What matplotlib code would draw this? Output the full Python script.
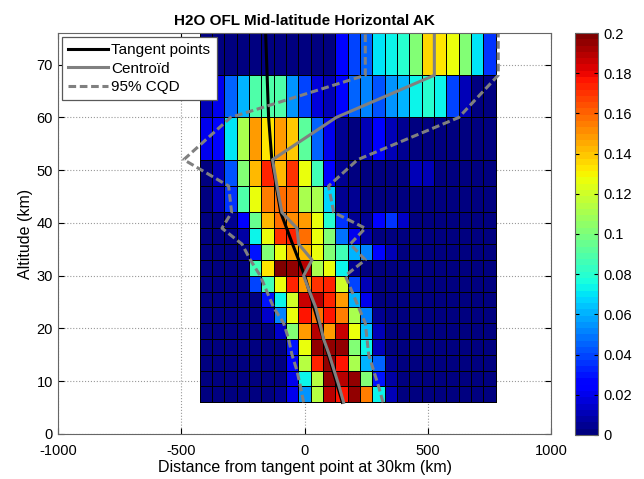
import numpy as np
import matplotlib.pyplot as plt
from matplotlib.lines import Line2D

plt.rcParams['font.family'] = ['Liberation Sans', 'DejaVu Sans']
plt.rcParams['axes.unicode_minus'] = False

# grid edges of the averaging-kernel map
x_edges = np.arange(-425, 776, 50)          # km, 24 columns
alt_edges = [6, 9, 12, 15, 18, 21, 24, 27, 30, 33, 36, 39, 42, 47, 52, 60, 68, 76]

# kernel values (x 1e-3), one row per altitude layer, bottom to top
kernel = np.array([
    [3, 3, 3, 3, 3, 3, 5, 20, 55, 115, 190, 178, 195, 155, 75, 12, 3, 3, 3, 3, 3, 3, 3, 3],
    [3, 3, 3, 3, 3, 3, 3, 20, 75, 115, 195, 190, 195, 100, 30, 8, 3, 3, 3, 3, 3, 3, 3, 3],
    [3, 3, 3, 3, 3, 3, 3, 25, 115, 175, 195, 178, 112, 60, 45, 5, 3, 3, 3, 3, 3, 3, 3, 3],
    [3, 3, 3, 3, 3, 3, 3, 30, 125, 195, 195, 195, 100, 75, 12, 3, 3, 3, 3, 3, 3, 3, 3, 3],
    [3, 3, 3, 3, 3, 3, 15, 100, 150, 190, 150, 185, 125, 65, 12, 3, 3, 3, 3, 3, 3, 3, 3, 3],
    [3, 3, 3, 3, 3, 15, 50, 125, 178, 158, 178, 155, 112, 50, 5, 3, 3, 3, 3, 3, 3, 3, 3, 3],
    [3, 3, 3, 3, 3, 30, 75, 120, 185, 190, 175, 150, 60, 20, 3, 3, 3, 3, 3, 3, 3, 3, 3, 3],
    [3, 3, 3, 3, 40, 85, 125, 175, 150, 170, 175, 120, 40, 10, 3, 3, 3, 3, 3, 3, 3, 3, 3, 3],
    [3, 3, 3, 3, 85, 133, 197, 195, 190, 112, 125, 72, 5, 3, 3, 3, 3, 3, 3, 3, 3, 3, 3, 3],
    [3, 3, 3, 3, 30, 103, 125, 145, 142, 125, 100, 85, 60, 52, 25, 12, 3, 3, 3, 3, 3, 3, 3, 3],
    [3, 3, 3, 8, 73, 125, 170, 172, 157, 127, 100, 47, 20, 8, 3, 3, 3, 3, 3, 3, 3, 3, 3, 3],
    [3, 3, 5, 22, 95, 142, 157, 152, 148, 125, 80, 35, 5, 5, 27, 37, 15, 3, 3, 3, 3, 3, 3, 3],
    [3, 10, 35, 90, 125, 155, 157, 157, 112, 110, 68, 6, 5, 3, 3, 3, 3, 3, 3, 3, 3, 3, 3, 3],
    [3, 10, 42, 100, 142, 172, 142, 170, 125, 85, 22, 5, 3, 3, 3, 3, 3, 10, 10, 3, 3, 3, 3, 3],
    [20, 25, 70, 112, 148, 133, 150, 138, 92, 45, 20, 4, 3, 10, 22, 12, 4, 3, 3, 3, 3, 3, 3, 3],
    [10, 20, 45, 60, 90, 88, 90, 55, 40, 18, 12, 25, 45, 52, 42, 55, 62, 72, 80, 72, 38, 10, 3, 3],
    [3, 3, 3, 3, 3, 3, 3, 3, 3, 3, 3, 25, 40, 45, 70, 72, 80, 100, 135, 133, 125, 102, 70, 35],
]) / 1000.0

# horizontal positions (km) at each altitude edge
tangent = [153, 134, 115, 96, 76, 57, 38, 19, 0, -24, -49, -73, -97, -115, -133, -146, -152, -158]
centroid = [158, 140, 120, 100, 77, 62, 45, 20, -4, 30, -24, -31, -92, -112, -130, 128, 526, 526]
cqd_low = [-4, -17, -31, -51, -65, -85, -126, -153, -180, -220, -254, -335, -296, -308, -490, -300, 246, 246]
cqd_high = [318, 300, 280, 260, 253, 246, 219, 192, 165, 246, 185, 246, 118, 97, 215, 625, 785, 785]

fig = plt.figure(figsize=(6.44, 4.79), dpi=100)
ax = fig.add_axes([0.090, 0.094, 0.766, 0.837])
cax = fig.add_axes([0.893, 0.092, 0.036, 0.839])

cmap = plt.get_cmap('jet', 64)
mesh = ax.pcolormesh(x_edges, alt_edges, kernel, cmap=cmap, vmin=0, vmax=0.2,
                     edgecolors='k', linewidth=0.4)

grey = (0.5, 0.5, 0.5)
dash = (0, (2.5, 1.2))
ax.plot(tangent, alt_edges, color='k', lw=2.2)
ax.plot(centroid, alt_edges, color=grey, lw=2.2)
ax.plot(cqd_low, alt_edges, color=grey, lw=2.2, ls=dash)
ax.plot(cqd_high, alt_edges, color=grey, lw=2.2, ls=dash)

ax.set_xlim(-1000, 1000)
ax.set_ylim(0, 76)
ax.set_xticks([-1000, -500, 0, 500, 1000])
ax.set_yticks(range(0, 71, 10))
ax.grid(True, ls=':', color=(0.6, 0.6, 0.6), lw=0.8)
ax.set_axisbelow(True)
ax.tick_params(direction='in', labelsize=10.5, top=True, right=True, length=4)
ax.tick_params(axis='x', pad=7)
for s in ax.spines.values():
    s.set_color((0.4, 0.4, 0.4))

ax.set_title('H2O OFL Mid-latitude Horizontal AK', fontsize=11, fontweight='bold')
ax.set_xlabel('Distance from tangent point at 30km (km)', fontsize=11.5, labelpad=2)
ax.set_ylabel('Altitude (km)', fontsize=11.5, labelpad=3)

handles = [Line2D([], [], color='k', lw=2.2),
           Line2D([], [], color=grey, lw=2.2),
           Line2D([], [], color=grey, lw=2.2, ls=dash)]
leg = ax.legend(handles, ['Tangent points', 'Centroïd', '95% CQD'], loc='upper left',
                fontsize=11, fancybox=False, framealpha=1, edgecolor=(0.35, 0.35, 0.35),
                borderaxespad=0.25, handlelength=2.6, handletextpad=0.25,
                labelspacing=0.3, borderpad=0.4)
leg.get_frame().set_linewidth(0.9)

cb = fig.colorbar(mesh, cax=cax, ticks=np.arange(0, 0.201, 0.02))
cb.ax.set_yticklabels(['0', '0.02', '0.04', '0.06', '0.08', '0.1', '0.12', '0.14',
                       '0.16', '0.18', '0.2'])
cb.ax.tick_params(labelsize=10.5, direction='in', left=True, length=3)
cb.outline.set_edgecolor((0.4, 0.4, 0.4))

fig.savefig('out.png', dpi=100)
